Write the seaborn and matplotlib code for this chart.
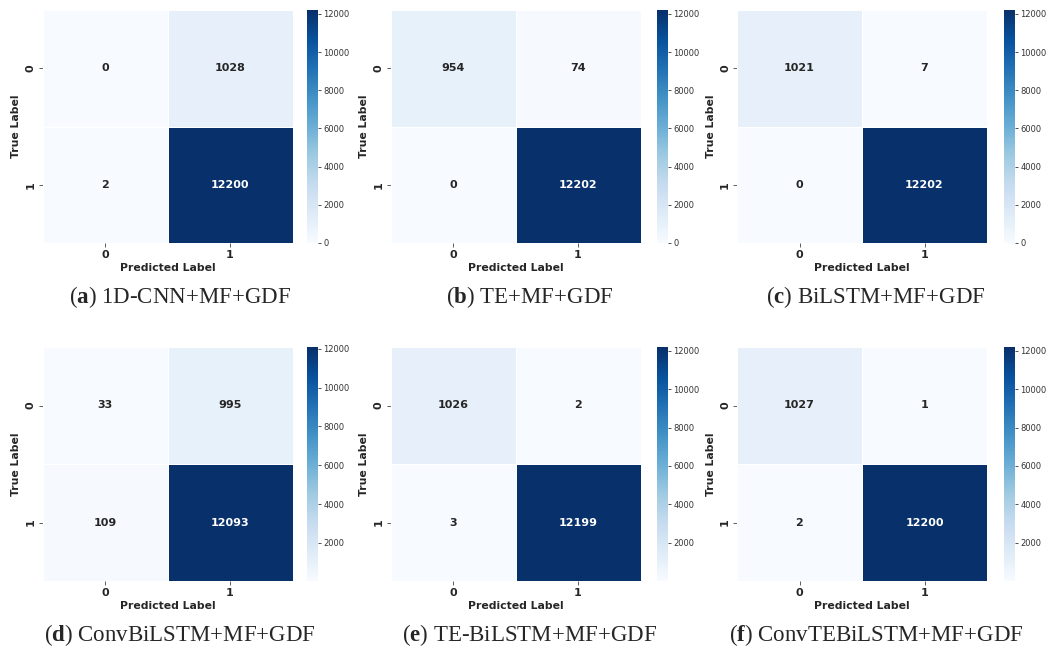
import numpy as np
import matplotlib
matplotlib.use("Agg")
import matplotlib.pyplot as plt
import seaborn as sns

sns.set_style("white")
plt.rcParams['font.family'] = ['DejaVu Sans']
plt.rcParams['mathtext.fontset'] = 'custom'
plt.rcParams['mathtext.rm'] = 'Liberation Serif'
plt.rcParams['mathtext.bf'] = 'Liberation Serif:bold'

class_labels = ["0", "1"]
titles = ["1D-CNN+MF+GDF", "TE+MF+GDF", "BiLSTM+MF+GDF",
          "ConvBiLSTM+MF+GDF", "TE-BiLSTM+MF+GDF", "ConvTEBiLSTM+MF+GDF"]
letters = ["a", "b", "c", "d", "e", "f"]
cm_a = [[0, 1028], [2, 12200]]
cm_b = [[954, 74], [0, 12202]]
cm_c = [[1021, 7], [0, 12202]]
cm_d = [[33, 995], [109, 12093]]
cm_e = [[1026, 2], [3, 12199]]
cm_f = [[1027, 1], [2, 12200]]
matrices = [cm_a, cm_b, cm_c, cm_d, cm_e, cm_f]

W, H = 1054, 650
fig = plt.figure(figsize=(W / 100, H / 100), dpi=100)

hm_left = [42.5, 390.5, 737]
cb_left = [307, 657, 1004]
rows_y = [(10, 243), (347, 581)]
cap_y = [297, 635]

def fx(px):
    return px / W

def fy(px):
    return 1 - px / H

for i, cm in enumerate(matrices):
    r, c = divmod(i, 3)
    y0, y1 = rows_y[r]
    ax = fig.add_axes([fx(hm_left[c]), fy(y1), fx(250), (y1 - y0) / H])
    cax = fig.add_axes([fx(cb_left[c]), fy(y1), fx(11), (y1 - y0) / H])
    sns.heatmap(np.array(cm), annot=True, fmt="d", cmap="Blues", ax=ax, cbar_ax=cax,
                xticklabels=class_labels, yticklabels=class_labels,
                linewidths=0.5, linecolor="white",
                annot_kws={"fontsize": 8, "fontweight": "bold"})
    ax.set_xlabel("Predicted Label", fontsize=7.8, fontweight="bold", labelpad=2)
    ax.set_ylabel("True Label", fontsize=7.8, fontweight="bold", labelpad=3)
    ax.tick_params(axis="both", labelsize=8, length=3, width=0.6, pad=2, left=True, bottom=True, color="#444444")
    for t in ax.get_xticklabels() + ax.get_yticklabels():
        t.set_fontweight("bold")
    cax.tick_params(labelsize=6, length=2.5, width=0.6, pad=1.5, colors="#333333")
    xc = (hm_left[c] + cb_left[c] + 11) / 2
    fig.text(fx(xc), fy(cap_y[r]), r"($\mathbf{%s}$) %s" % (letters[i], titles[i]),
             ha="center", va="center", fontsize=16.5, family="Liberation Serif",
             math_fontfamily="custom")

fig.savefig("out.png", dpi=100, facecolor="white")
